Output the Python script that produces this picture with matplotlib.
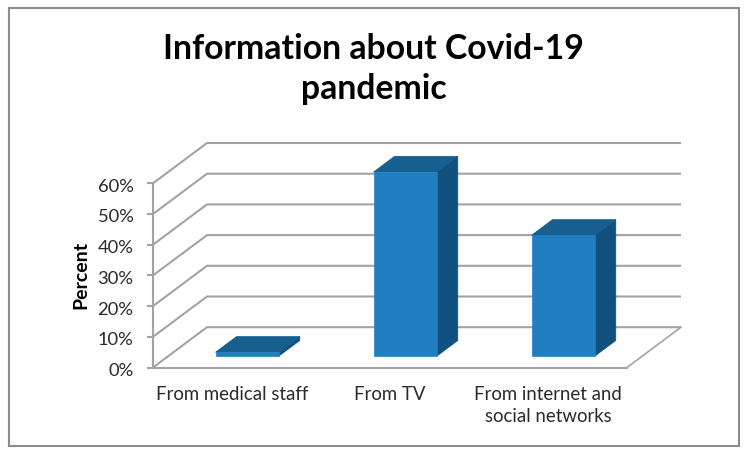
import matplotlib
matplotlib.use("Agg")
import matplotlib.pyplot as plt
from matplotlib.patches import Rectangle, Polygon
from matplotlib.transforms import ScaledTranslation

plt.rcParams['font.family'] = ['Lato', 'DejaVu Sans']

categories = ["From medical staff", "From TV", "From internet and\nsocial networks"]
percent_values = [1.3, 60, 39.4]
y_ticks = [0, 10, 20, 30, 40, 50, 60]
y_tick_labels = ["0%", "10%", "20%", "30%", "40%", "50%", "60%"]
title_text = "Information about Covid-19\npandemic"
y_label = "Percent"

W, H = 748, 455
fig = plt.figure(figsize=(W / 100, H / 100), dpi=100, facecolor="white")

L, R, B, T = 153, 627, 367.5, 183.3
ax = fig.add_axes([L / W, 1 - B / H, (R - L) / W, (B - T) / H])
ax.set_xlim(0, 3)
ax.set_ylim(0, 60)
ax.patch.set_visible(False)

GRID = "#a3a3a3"
FRONT, TOP, SIDE = "#1f7fc1", "#175f8f", "#10517f"

DX = 54 / ((R - L) / 3)
DY = 40.3 / ((B - T) / 60)


def proj(x, y, d):
    return (x + d * DX, y + d * DY)


def face(points, color, z):
    ax.add_patch(Polygon(points, closed=True, facecolor=color, edgecolor=color,
                         linewidth=0.5, clip_on=False, zorder=z))


for t in y_ticks:
    xs, ys = zip(proj(0, t, 0), proj(0, t, 1), proj(3, t, 1))
    ax.plot(xs, ys, color=GRID, lw=1.5, clip_on=False, zorder=1, solid_capstyle="butt")
xs, ys = zip(proj(3, 0, 1), proj(3, 0, 0))
ax.plot(xs, ys, color=GRID, lw=1.2, clip_on=False, zorder=1)

BAR_W = 0.4
D0, D1 = 0.28, 0.67
for i, v in enumerate(percent_values):
    x0, x1 = i + 0.5 - BAR_W / 2, i + 0.5 + BAR_W / 2
    face([proj(x1, 0, D0), proj(x1, 0, D1), proj(x1, v, D1), proj(x1, v, D0)], SIDE, 3)
    face([proj(x0, v, D0), proj(x1, v, D0), proj(x1, v, D1), proj(x0, v, D1)], TOP, 3)
    face([proj(x0, 0, D0), proj(x1, 0, D0), proj(x1, v, D0), proj(x0, v, D0)], FRONT, 4)

for s in ("top", "right"):
    ax.spines[s].set_visible(False)
for s in ("left", "bottom"):
    ax.spines[s].set_color(GRID)
    ax.spines[s].set_linewidth(1.5)

ax.set_yticks(y_ticks)
ax.set_yticklabels(y_tick_labels, fontsize=13.2, color="#2a2a2a")
ax.tick_params(axis="y", length=4.5, width=1.5, color=GRID, pad=9.5)
shift = ScaledTranslation(0, -2 / 100, fig.dpi_scale_trans)
for lab in ax.get_yticklabels():
    lab.set_transform(lab.get_transform() + shift)

ax.set_xticks([0.5, 1.5, 2.5])
ax.set_xticklabels(categories, fontsize=13.4, color="#2a2a2a", linespacing=1.42)
ax.tick_params(axis="x", length=0, pad=13)

fig.text(80.5 / W, 1 - 275 / H, y_label, rotation=90, fontsize=14, fontweight="bold",
         color="black", ha="center", va="center")
fig.text(373.5 / W, 1 - 69 / H, title_text, fontsize=24.3, fontweight="bold", color="black",
         ha="center", va="center", linespacing=1.33)

fig.add_artist(Rectangle((8.5 / W, 1 - 446 / H), 730.5 / W, 438 / H, transform=fig.transFigure,
                         facecolor="none", edgecolor="#8c8c8c", linewidth=1.5))

fig.savefig("out.png", dpi=100, facecolor="white")
